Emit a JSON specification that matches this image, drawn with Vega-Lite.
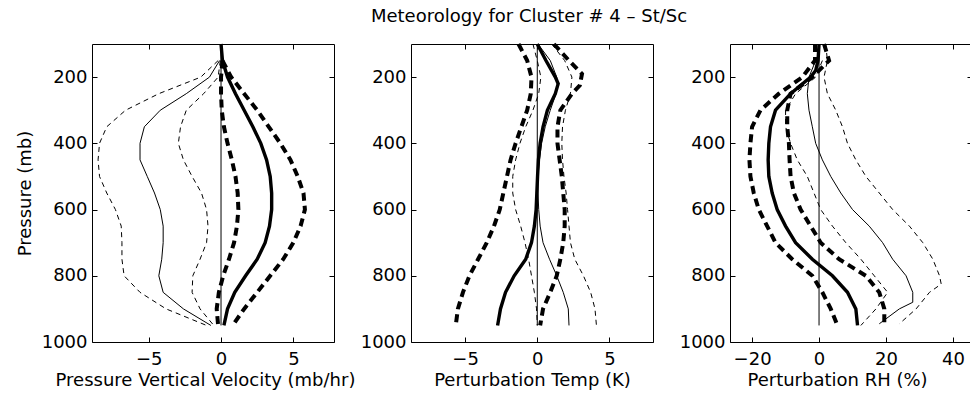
{
  "$schema": "https://vega.github.io/schema/vega-lite/v6.json",
  "autosize": {"type": "none"},
  "padding": {"left": 92, "top": 44, "right": 878, "bottom": 351},
  "background": "white",
  "config": {
    "view": {"stroke": "black", "strokeWidth": 1},
    "axis": {
      "domain": false, "grid": false, "ticks": true, "tickColor": "black", "tickSize": -5, "tickWidth": 1,
      "labelFont": "DejaVu Sans", "labelFontSize": 18, "labelColor": "black", "format": "d",
      "titleFont": "DejaVu Sans", "titleFontSize": 18, "titleFontWeight": "normal", "titleColor": "black"
    },
    "axisBottom": {"labelBaseline": "alphabetic", "labelPadding": 27, "titleBaseline": "alphabetic", "titleY": 43},
    "axisLeft": {"labelPadding": 10, "titleX": -58},
    "line": {"color": "black", "strokeCap": "butt", "interpolate": "linear"}
  },
  "hconcat": [
    {
      "width": 242, "height": 298,
      "data": {"name": "omega"},
      "encoding": {
        "x": {"field": "v", "type": "quantitative", "scale": {"domain": [-8.92, 7.81], "nice": false, "zero": false}, "axis": null},
        "y": {"field": "p", "type": "quantitative", "scale": {"domain": [100, 1000], "reverse": true, "nice": false, "zero": false}, "axis": null},
        "detail": {"field": "c"},
        "order": {"field": "p"}
      },
      "layer": [
        {
          "transform": [{"filter": "datum.s === 'cluster'"}],
          "mark": {"type": "line", "color": "black", "strokeWidth": 3.4},
          "encoding": {
            "x": {"field": "v", "type": "quantitative", "axis": {"values": [-5, 0, 5], "title": "Pressure Vertical Velocity (mb/hr)", "titleX": 113}},
            "y": {"field": "p", "type": "quantitative", "axis": {"values": [200, 400, 600, 800, 1000], "title": "Pressure (mb)"}}
          }
        },
        {"transform": [{"filter": "datum.s === 'cluster_sd'"}], "mark": {"type": "line", "color": "black", "strokeWidth": 4, "strokeDash": [8, 5]}},
        {"transform": [{"filter": "datum.s === 'all'"}], "mark": {"type": "line", "color": "black", "strokeWidth": 1}},
        {"transform": [{"filter": "datum.s === 'all_sd'"}], "mark": {"type": "line", "color": "black", "strokeWidth": 1, "strokeDash": [5, 4]}},
        {
          "transform": [{"filter": "datum.s === 'zero'"}],
          "mark": {"type": "line", "color": "black", "strokeWidth": 1},
          "encoding": {
            "x": {"field": "v", "type": "quantitative", "axis": {"orient": "top", "values": [-5, 0, 5], "labels": false, "title": null}},
            "y": {"field": "p", "type": "quantitative", "axis": {"orient": "right", "values": [200, 400, 600, 800, 1000], "labels": false, "title": null}}
          }
        }
      ],
      "resolve": {"axis": {"x": "independent", "y": "independent"}}
    },
    {
      "width": 242, "height": 298,
      "data": {"name": "temp"},
      "title": {"text": "Meteorology for Cluster # 4 – St/Sc", "font": "DejaVu Sans", "fontSize": 18, "fontWeight": "normal", "baseline": "alphabetic", "offset": -4, "anchor": "middle", "color": "black", "dx": -3},
      "encoding": {
        "x": {"field": "v", "type": "quantitative", "scale": {"domain": [-8.75, 8.02], "nice": false, "zero": false}, "axis": null},
        "y": {"field": "p", "type": "quantitative", "scale": {"domain": [100, 1000], "reverse": true, "nice": false, "zero": false}, "axis": null},
        "detail": {"field": "c"},
        "order": {"field": "p"}
      },
      "layer": [
        {
          "transform": [{"filter": "datum.s === 'cluster'"}],
          "mark": {"type": "line", "color": "black", "strokeWidth": 3.4},
          "encoding": {
            "x": {"field": "v", "type": "quantitative", "axis": {"values": [-5, 0, 5], "title": "Perturbation Temp (K)"}},
            "y": {"field": "p", "type": "quantitative", "axis": {"values": [200, 400, 600, 800, 1000], "title": null}}
          }
        },
        {"transform": [{"filter": "datum.s === 'cluster_sd'"}], "mark": {"type": "line", "color": "black", "strokeWidth": 4, "strokeDash": [8, 5]}},
        {"transform": [{"filter": "datum.s === 'all'"}], "mark": {"type": "line", "color": "black", "strokeWidth": 1}},
        {"transform": [{"filter": "datum.s === 'all_sd'"}], "mark": {"type": "line", "color": "black", "strokeWidth": 1, "strokeDash": [5, 4]}},
        {
          "transform": [{"filter": "datum.s === 'zero'"}],
          "mark": {"type": "line", "color": "black", "strokeWidth": 1},
          "encoding": {
            "x": {"field": "v", "type": "quantitative", "axis": {"orient": "top", "values": [-5, 0, 5], "labels": false, "title": null}},
            "y": {"field": "p", "type": "quantitative", "axis": {"orient": "right", "values": [200, 400, 600, 800, 1000], "labels": false, "title": null}}
          }
        }
      ],
      "resolve": {"axis": {"x": "independent", "y": "independent"}}
    },
    {
      "width": 242, "height": 298,
      "data": {"name": "rh"},
      "encoding": {
        "x": {"field": "v", "type": "quantitative", "scale": {"domain": [-26.6, 45.7], "nice": false, "zero": false}, "axis": null},
        "y": {"field": "p", "type": "quantitative", "scale": {"domain": [100, 1000], "reverse": true, "nice": false, "zero": false}, "axis": null},
        "detail": {"field": "c"},
        "order": {"field": "p"}
      },
      "layer": [
        {
          "transform": [{"filter": "datum.s === 'cluster'"}],
          "mark": {"type": "line", "color": "black", "strokeWidth": 3.4},
          "encoding": {
            "x": {"field": "v", "type": "quantitative", "axis": {"values": [-20, 0, 20, 40], "title": "Perturbation RH (%)", "titleX": 107}},
            "y": {"field": "p", "type": "quantitative", "axis": {"values": [200, 400, 600, 800, 1000], "title": null}}
          }
        },
        {"transform": [{"filter": "datum.s === 'cluster_sd'"}], "mark": {"type": "line", "color": "black", "strokeWidth": 4, "strokeDash": [8, 5]}},
        {"transform": [{"filter": "datum.s === 'all'"}], "mark": {"type": "line", "color": "black", "strokeWidth": 1}},
        {"transform": [{"filter": "datum.s === 'all_sd'"}], "mark": {"type": "line", "color": "black", "strokeWidth": 1, "strokeDash": [5, 4]}},
        {
          "transform": [{"filter": "datum.s === 'zero'"}],
          "mark": {"type": "line", "color": "black", "strokeWidth": 1},
          "encoding": {
            "x": {"field": "v", "type": "quantitative", "axis": {"orient": "top", "values": [-20, 0, 20, 40], "labels": false, "title": null}},
            "y": {"field": "p", "type": "quantitative", "axis": {"orient": "right", "values": [200, 400, 600, 800, 1000], "labels": false, "title": null}}
          }
        }
      ],
      "resolve": {"axis": {"x": "independent", "y": "independent"}}
    }
  ],
  "spacing": 77,
  "bounds": "flush",
  "datasets": {
    "omega": [
      {"s": "zero", "c": "zero", "p": 100, "v": 0}, {"s": "zero", "c": "zero", "p": 950, "v": 0},
      {"s": "cluster", "c": "cluster", "p": 100, "v": 0}, {"s": "cluster", "c": "cluster", "p": 150, "v": 0.1}, {"s": "cluster", "c": "cluster", "p": 200, "v": 0.45}, {"s": "cluster", "c": "cluster", "p": 250, "v": 1.0}, {"s": "cluster", "c": "cluster", "p": 300, "v": 1.6}, {"s": "cluster", "c": "cluster", "p": 350, "v": 2.2}, {"s": "cluster", "c": "cluster", "p": 400, "v": 2.75}, {"s": "cluster", "c": "cluster", "p": 450, "v": 3.15}, {"s": "cluster", "c": "cluster", "p": 500, "v": 3.4}, {"s": "cluster", "c": "cluster", "p": 550, "v": 3.5}, {"s": "cluster", "c": "cluster", "p": 600, "v": 3.5}, {"s": "cluster", "c": "cluster", "p": 650, "v": 3.35}, {"s": "cluster", "c": "cluster", "p": 700, "v": 3.05}, {"s": "cluster", "c": "cluster", "p": 750, "v": 2.5}, {"s": "cluster", "c": "cluster", "p": 800, "v": 1.7}, {"s": "cluster", "c": "cluster", "p": 850, "v": 0.95}, {"s": "cluster", "c": "cluster", "p": 900, "v": 0.45}, {"s": "cluster", "c": "cluster", "p": 950, "v": 0.2},
      {"s": "cluster_sd", "c": "cluster_hi", "p": 150, "v": 0.1}, {"s": "cluster_sd", "c": "cluster_hi", "p": 200, "v": 0.7}, {"s": "cluster_sd", "c": "cluster_hi", "p": 250, "v": 1.6}, {"s": "cluster_sd", "c": "cluster_hi", "p": 300, "v": 2.5}, {"s": "cluster_sd", "c": "cluster_hi", "p": 350, "v": 3.3}, {"s": "cluster_sd", "c": "cluster_hi", "p": 400, "v": 4.1}, {"s": "cluster_sd", "c": "cluster_hi", "p": 450, "v": 4.8}, {"s": "cluster_sd", "c": "cluster_hi", "p": 500, "v": 5.3}, {"s": "cluster_sd", "c": "cluster_hi", "p": 550, "v": 5.7}, {"s": "cluster_sd", "c": "cluster_hi", "p": 600, "v": 5.8}, {"s": "cluster_sd", "c": "cluster_hi", "p": 650, "v": 5.5}, {"s": "cluster_sd", "c": "cluster_hi", "p": 700, "v": 5.0}, {"s": "cluster_sd", "c": "cluster_hi", "p": 750, "v": 4.3}, {"s": "cluster_sd", "c": "cluster_hi", "p": 800, "v": 3.4}, {"s": "cluster_sd", "c": "cluster_hi", "p": 850, "v": 2.5}, {"s": "cluster_sd", "c": "cluster_hi", "p": 900, "v": 1.6}, {"s": "cluster_sd", "c": "cluster_hi", "p": 950, "v": 0.8},
      {"s": "cluster_sd", "c": "cluster_lo", "p": 150, "v": 0.1}, {"s": "cluster_sd", "c": "cluster_lo", "p": 200, "v": 0.0}, {"s": "cluster_sd", "c": "cluster_lo", "p": 250, "v": 0.0}, {"s": "cluster_sd", "c": "cluster_lo", "p": 300, "v": 0.05}, {"s": "cluster_sd", "c": "cluster_lo", "p": 350, "v": 0.2}, {"s": "cluster_sd", "c": "cluster_lo", "p": 400, "v": 0.45}, {"s": "cluster_sd", "c": "cluster_lo", "p": 450, "v": 0.75}, {"s": "cluster_sd", "c": "cluster_lo", "p": 500, "v": 1.0}, {"s": "cluster_sd", "c": "cluster_lo", "p": 550, "v": 1.15}, {"s": "cluster_sd", "c": "cluster_lo", "p": 600, "v": 1.2}, {"s": "cluster_sd", "c": "cluster_lo", "p": 650, "v": 1.1}, {"s": "cluster_sd", "c": "cluster_lo", "p": 700, "v": 0.9}, {"s": "cluster_sd", "c": "cluster_lo", "p": 750, "v": 0.55}, {"s": "cluster_sd", "c": "cluster_lo", "p": 800, "v": 0.15}, {"s": "cluster_sd", "c": "cluster_lo", "p": 850, "v": -0.15}, {"s": "cluster_sd", "c": "cluster_lo", "p": 900, "v": -0.3}, {"s": "cluster_sd", "c": "cluster_lo", "p": 950, "v": -0.2},
      {"s": "all", "c": "all", "p": 150, "v": -0.1}, {"s": "all", "c": "all", "p": 200, "v": -0.8}, {"s": "all", "c": "all", "p": 250, "v": -2.4}, {"s": "all", "c": "all", "p": 300, "v": -4.2}, {"s": "all", "c": "all", "p": 350, "v": -5.3}, {"s": "all", "c": "all", "p": 400, "v": -5.6}, {"s": "all", "c": "all", "p": 450, "v": -5.6}, {"s": "all", "c": "all", "p": 500, "v": -5.1}, {"s": "all", "c": "all", "p": 550, "v": -4.6}, {"s": "all", "c": "all", "p": 600, "v": -4.2}, {"s": "all", "c": "all", "p": 650, "v": -4.0}, {"s": "all", "c": "all", "p": 700, "v": -4.0}, {"s": "all", "c": "all", "p": 750, "v": -4.1}, {"s": "all", "c": "all", "p": 800, "v": -4.3}, {"s": "all", "c": "all", "p": 850, "v": -4.0}, {"s": "all", "c": "all", "p": 900, "v": -2.6}, {"s": "all", "c": "all", "p": 950, "v": -0.7},
      {"s": "all_sd", "c": "all_lo", "p": 150, "v": -0.2}, {"s": "all_sd", "c": "all_lo", "p": 200, "v": -1.4}, {"s": "all_sd", "c": "all_lo", "p": 250, "v": -4.3}, {"s": "all_sd", "c": "all_lo", "p": 300, "v": -6.6}, {"s": "all_sd", "c": "all_lo", "p": 350, "v": -7.9}, {"s": "all_sd", "c": "all_lo", "p": 400, "v": -8.4}, {"s": "all_sd", "c": "all_lo", "p": 450, "v": -8.5}, {"s": "all_sd", "c": "all_lo", "p": 500, "v": -8.4}, {"s": "all_sd", "c": "all_lo", "p": 550, "v": -7.9}, {"s": "all_sd", "c": "all_lo", "p": 600, "v": -7.3}, {"s": "all_sd", "c": "all_lo", "p": 650, "v": -6.9}, {"s": "all_sd", "c": "all_lo", "p": 700, "v": -6.85}, {"s": "all_sd", "c": "all_lo", "p": 750, "v": -6.85}, {"s": "all_sd", "c": "all_lo", "p": 800, "v": -6.7}, {"s": "all_sd", "c": "all_lo", "p": 850, "v": -5.6}, {"s": "all_sd", "c": "all_lo", "p": 900, "v": -3.8}, {"s": "all_sd", "c": "all_lo", "p": 950, "v": -1.0},
      {"s": "all_sd", "c": "all_hi", "p": 150, "v": -0.05}, {"s": "all_sd", "c": "all_hi", "p": 200, "v": -0.2}, {"s": "all_sd", "c": "all_hi", "p": 250, "v": -1.2}, {"s": "all_sd", "c": "all_hi", "p": 300, "v": -2.4}, {"s": "all_sd", "c": "all_hi", "p": 350, "v": -2.8}, {"s": "all_sd", "c": "all_hi", "p": 400, "v": -2.95}, {"s": "all_sd", "c": "all_hi", "p": 450, "v": -2.6}, {"s": "all_sd", "c": "all_hi", "p": 500, "v": -2.0}, {"s": "all_sd", "c": "all_hi", "p": 550, "v": -1.35}, {"s": "all_sd", "c": "all_hi", "p": 600, "v": -1.0}, {"s": "all_sd", "c": "all_hi", "p": 650, "v": -0.9}, {"s": "all_sd", "c": "all_hi", "p": 700, "v": -1.0}, {"s": "all_sd", "c": "all_hi", "p": 750, "v": -1.45}, {"s": "all_sd", "c": "all_hi", "p": 800, "v": -1.95}, {"s": "all_sd", "c": "all_hi", "p": 850, "v": -2.0}, {"s": "all_sd", "c": "all_hi", "p": 900, "v": -1.45}, {"s": "all_sd", "c": "all_hi", "p": 950, "v": -0.5}
    ],
    "temp": [
      {"s": "zero", "c": "zero", "p": 100, "v": 0}, {"s": "zero", "c": "zero", "p": 950, "v": 0},
      {"s": "cluster", "c": "cluster", "p": 100, "v": 0}, {"s": "cluster", "c": "cluster", "p": 150, "v": 0.6}, {"s": "cluster", "c": "cluster", "p": 200, "v": 1.25}, {"s": "cluster", "c": "cluster", "p": 220, "v": 1.45}, {"s": "cluster", "c": "cluster", "p": 250, "v": 1.25}, {"s": "cluster", "c": "cluster", "p": 300, "v": 0.7}, {"s": "cluster", "c": "cluster", "p": 350, "v": 0.4}, {"s": "cluster", "c": "cluster", "p": 400, "v": 0.2}, {"s": "cluster", "c": "cluster", "p": 450, "v": 0.08}, {"s": "cluster", "c": "cluster", "p": 500, "v": 0.02}, {"s": "cluster", "c": "cluster", "p": 550, "v": -0.03}, {"s": "cluster", "c": "cluster", "p": 600, "v": -0.08}, {"s": "cluster", "c": "cluster", "p": 650, "v": -0.2}, {"s": "cluster", "c": "cluster", "p": 700, "v": -0.4}, {"s": "cluster", "c": "cluster", "p": 750, "v": -0.8}, {"s": "cluster", "c": "cluster", "p": 800, "v": -1.6}, {"s": "cluster", "c": "cluster", "p": 850, "v": -2.2}, {"s": "cluster", "c": "cluster", "p": 900, "v": -2.55}, {"s": "cluster", "c": "cluster", "p": 950, "v": -2.75},
      {"s": "cluster_sd", "c": "cluster_lo", "p": 100, "v": -1.3}, {"s": "cluster_sd", "c": "cluster_lo", "p": 150, "v": -0.7}, {"s": "cluster_sd", "c": "cluster_lo", "p": 200, "v": -0.4}, {"s": "cluster_sd", "c": "cluster_lo", "p": 250, "v": -0.45}, {"s": "cluster_sd", "c": "cluster_lo", "p": 300, "v": -0.7}, {"s": "cluster_sd", "c": "cluster_lo", "p": 350, "v": -1.1}, {"s": "cluster_sd", "c": "cluster_lo", "p": 400, "v": -1.5}, {"s": "cluster_sd", "c": "cluster_lo", "p": 450, "v": -1.85}, {"s": "cluster_sd", "c": "cluster_lo", "p": 500, "v": -2.1}, {"s": "cluster_sd", "c": "cluster_lo", "p": 550, "v": -2.35}, {"s": "cluster_sd", "c": "cluster_lo", "p": 600, "v": -2.6}, {"s": "cluster_sd", "c": "cluster_lo", "p": 650, "v": -3.0}, {"s": "cluster_sd", "c": "cluster_lo", "p": 700, "v": -3.5}, {"s": "cluster_sd", "c": "cluster_lo", "p": 750, "v": -4.1}, {"s": "cluster_sd", "c": "cluster_lo", "p": 800, "v": -4.7}, {"s": "cluster_sd", "c": "cluster_lo", "p": 850, "v": -5.15}, {"s": "cluster_sd", "c": "cluster_lo", "p": 900, "v": -5.5}, {"s": "cluster_sd", "c": "cluster_lo", "p": 950, "v": -5.65},
      {"s": "cluster_sd", "c": "cluster_hi", "p": 100, "v": 1.15}, {"s": "cluster_sd", "c": "cluster_hi", "p": 150, "v": 2.2}, {"s": "cluster_sd", "c": "cluster_hi", "p": 190, "v": 3.1}, {"s": "cluster_sd", "c": "cluster_hi", "p": 225, "v": 2.95}, {"s": "cluster_sd", "c": "cluster_hi", "p": 250, "v": 2.4}, {"s": "cluster_sd", "c": "cluster_hi", "p": 300, "v": 1.6}, {"s": "cluster_sd", "c": "cluster_hi", "p": 350, "v": 1.4}, {"s": "cluster_sd", "c": "cluster_hi", "p": 400, "v": 1.4}, {"s": "cluster_sd", "c": "cluster_hi", "p": 450, "v": 1.55}, {"s": "cluster_sd", "c": "cluster_hi", "p": 500, "v": 1.7}, {"s": "cluster_sd", "c": "cluster_hi", "p": 550, "v": 1.8}, {"s": "cluster_sd", "c": "cluster_hi", "p": 600, "v": 1.9}, {"s": "cluster_sd", "c": "cluster_hi", "p": 650, "v": 1.9}, {"s": "cluster_sd", "c": "cluster_hi", "p": 700, "v": 1.8}, {"s": "cluster_sd", "c": "cluster_hi", "p": 750, "v": 1.6}, {"s": "cluster_sd", "c": "cluster_hi", "p": 800, "v": 1.35}, {"s": "cluster_sd", "c": "cluster_hi", "p": 850, "v": 0.9}, {"s": "cluster_sd", "c": "cluster_hi", "p": 900, "v": 0.4}, {"s": "cluster_sd", "c": "cluster_hi", "p": 950, "v": 0.2},
      {"s": "all", "c": "all", "p": 100, "v": 0.05}, {"s": "all", "c": "all", "p": 150, "v": 0.9}, {"s": "all", "c": "all", "p": 200, "v": 1.35}, {"s": "all", "c": "all", "p": 225, "v": 1.4}, {"s": "all", "c": "all", "p": 250, "v": 1.3}, {"s": "all", "c": "all", "p": 300, "v": 0.9}, {"s": "all", "c": "all", "p": 350, "v": 0.55}, {"s": "all", "c": "all", "p": 400, "v": 0.3}, {"s": "all", "c": "all", "p": 450, "v": 0.15}, {"s": "all", "c": "all", "p": 500, "v": 0.05}, {"s": "all", "c": "all", "p": 550, "v": 0.05}, {"s": "all", "c": "all", "p": 600, "v": 0.1}, {"s": "all", "c": "all", "p": 650, "v": 0.2}, {"s": "all", "c": "all", "p": 700, "v": 0.4}, {"s": "all", "c": "all", "p": 750, "v": 0.85}, {"s": "all", "c": "all", "p": 800, "v": 1.35}, {"s": "all", "c": "all", "p": 850, "v": 1.8}, {"s": "all", "c": "all", "p": 900, "v": 2.15}, {"s": "all", "c": "all", "p": 950, "v": 2.2},
      {"s": "all_sd", "c": "all_hi", "p": 100, "v": 1.0}, {"s": "all_sd", "c": "all_hi", "p": 150, "v": 1.9}, {"s": "all_sd", "c": "all_hi", "p": 200, "v": 2.4}, {"s": "all_sd", "c": "all_hi", "p": 250, "v": 2.3}, {"s": "all_sd", "c": "all_hi", "p": 300, "v": 1.95}, {"s": "all_sd", "c": "all_hi", "p": 350, "v": 1.75}, {"s": "all_sd", "c": "all_hi", "p": 400, "v": 1.7}, {"s": "all_sd", "c": "all_hi", "p": 450, "v": 1.75}, {"s": "all_sd", "c": "all_hi", "p": 500, "v": 1.85}, {"s": "all_sd", "c": "all_hi", "p": 550, "v": 2.0}, {"s": "all_sd", "c": "all_hi", "p": 600, "v": 2.1}, {"s": "all_sd", "c": "all_hi", "p": 650, "v": 2.2}, {"s": "all_sd", "c": "all_hi", "p": 700, "v": 2.3}, {"s": "all_sd", "c": "all_hi", "p": 750, "v": 2.6}, {"s": "all_sd", "c": "all_hi", "p": 800, "v": 3.2}, {"s": "all_sd", "c": "all_hi", "p": 850, "v": 3.7}, {"s": "all_sd", "c": "all_hi", "p": 900, "v": 4.0}, {"s": "all_sd", "c": "all_hi", "p": 950, "v": 4.1},
      {"s": "all_sd", "c": "all_lo", "p": 100, "v": -0.3}, {"s": "all_sd", "c": "all_lo", "p": 150, "v": 0.0}, {"s": "all_sd", "c": "all_lo", "p": 200, "v": 0.25}, {"s": "all_sd", "c": "all_lo", "p": 250, "v": 0.1}, {"s": "all_sd", "c": "all_lo", "p": 300, "v": -0.3}, {"s": "all_sd", "c": "all_lo", "p": 350, "v": -0.8}, {"s": "all_sd", "c": "all_lo", "p": 400, "v": -1.2}, {"s": "all_sd", "c": "all_lo", "p": 450, "v": -1.5}, {"s": "all_sd", "c": "all_lo", "p": 500, "v": -1.7}, {"s": "all_sd", "c": "all_lo", "p": 550, "v": -1.7}, {"s": "all_sd", "c": "all_lo", "p": 600, "v": -1.5}, {"s": "all_sd", "c": "all_lo", "p": 650, "v": -1.15}, {"s": "all_sd", "c": "all_lo", "p": 700, "v": -0.85}, {"s": "all_sd", "c": "all_lo", "p": 750, "v": -0.6}, {"s": "all_sd", "c": "all_lo", "p": 800, "v": -0.4}, {"s": "all_sd", "c": "all_lo", "p": 850, "v": -0.2}, {"s": "all_sd", "c": "all_lo", "p": 900, "v": -0.05}, {"s": "all_sd", "c": "all_lo", "p": 950, "v": 0.0}
    ],
    "rh": [
      {"s": "zero", "c": "zero", "p": 100, "v": 0}, {"s": "zero", "c": "zero", "p": 950, "v": 0},
      {"s": "cluster", "c": "cluster", "p": 100, "v": 0}, {"s": "cluster", "c": "cluster", "p": 150, "v": -0.3}, {"s": "cluster", "c": "cluster", "p": 180, "v": -1.0}, {"s": "cluster", "c": "cluster", "p": 200, "v": -2.5}, {"s": "cluster", "c": "cluster", "p": 250, "v": -8.5}, {"s": "cluster", "c": "cluster", "p": 300, "v": -13}, {"s": "cluster", "c": "cluster", "p": 350, "v": -14.5}, {"s": "cluster", "c": "cluster", "p": 400, "v": -15}, {"s": "cluster", "c": "cluster", "p": 450, "v": -15.2}, {"s": "cluster", "c": "cluster", "p": 500, "v": -15}, {"s": "cluster", "c": "cluster", "p": 550, "v": -14}, {"s": "cluster", "c": "cluster", "p": 600, "v": -12.5}, {"s": "cluster", "c": "cluster", "p": 650, "v": -10}, {"s": "cluster", "c": "cluster", "p": 700, "v": -7}, {"s": "cluster", "c": "cluster", "p": 750, "v": -2}, {"s": "cluster", "c": "cluster", "p": 800, "v": 4}, {"s": "cluster", "c": "cluster", "p": 850, "v": 8.5}, {"s": "cluster", "c": "cluster", "p": 900, "v": 11}, {"s": "cluster", "c": "cluster", "p": 950, "v": 11.5},
      {"s": "cluster_sd", "c": "cluster_lo", "p": 100, "v": -1.2}, {"s": "cluster_sd", "c": "cluster_lo", "p": 150, "v": -1.2}, {"s": "cluster_sd", "c": "cluster_lo", "p": 200, "v": -5}, {"s": "cluster_sd", "c": "cluster_lo", "p": 250, "v": -12}, {"s": "cluster_sd", "c": "cluster_lo", "p": 300, "v": -17.5}, {"s": "cluster_sd", "c": "cluster_lo", "p": 350, "v": -20}, {"s": "cluster_sd", "c": "cluster_lo", "p": 400, "v": -20.5}, {"s": "cluster_sd", "c": "cluster_lo", "p": 450, "v": -20.8}, {"s": "cluster_sd", "c": "cluster_lo", "p": 500, "v": -20.5}, {"s": "cluster_sd", "c": "cluster_lo", "p": 550, "v": -19.5}, {"s": "cluster_sd", "c": "cluster_lo", "p": 600, "v": -18}, {"s": "cluster_sd", "c": "cluster_lo", "p": 650, "v": -15.5}, {"s": "cluster_sd", "c": "cluster_lo", "p": 700, "v": -13}, {"s": "cluster_sd", "c": "cluster_lo", "p": 750, "v": -8}, {"s": "cluster_sd", "c": "cluster_lo", "p": 800, "v": -2}, {"s": "cluster_sd", "c": "cluster_lo", "p": 850, "v": 1}, {"s": "cluster_sd", "c": "cluster_lo", "p": 900, "v": 3.5}, {"s": "cluster_sd", "c": "cluster_lo", "p": 950, "v": 5.5},
      {"s": "cluster_sd", "c": "cluster_hi", "p": 100, "v": 1.5}, {"s": "cluster_sd", "c": "cluster_hi", "p": 150, "v": 3}, {"s": "cluster_sd", "c": "cluster_hi", "p": 200, "v": -2}, {"s": "cluster_sd", "c": "cluster_hi", "p": 250, "v": -8.5}, {"s": "cluster_sd", "c": "cluster_hi", "p": 300, "v": -9.5}, {"s": "cluster_sd", "c": "cluster_hi", "p": 350, "v": -9.5}, {"s": "cluster_sd", "c": "cluster_hi", "p": 400, "v": -9}, {"s": "cluster_sd", "c": "cluster_hi", "p": 450, "v": -8.8}, {"s": "cluster_sd", "c": "cluster_hi", "p": 500, "v": -8.5}, {"s": "cluster_sd", "c": "cluster_hi", "p": 550, "v": -7.5}, {"s": "cluster_sd", "c": "cluster_hi", "p": 600, "v": -5.5}, {"s": "cluster_sd", "c": "cluster_hi", "p": 650, "v": -2.5}, {"s": "cluster_sd", "c": "cluster_hi", "p": 700, "v": 0.5}, {"s": "cluster_sd", "c": "cluster_hi", "p": 750, "v": 6}, {"s": "cluster_sd", "c": "cluster_hi", "p": 800, "v": 14}, {"s": "cluster_sd", "c": "cluster_hi", "p": 850, "v": 18}, {"s": "cluster_sd", "c": "cluster_hi", "p": 900, "v": 19.5}, {"s": "cluster_sd", "c": "cluster_hi", "p": 950, "v": 19.5},
      {"s": "all", "c": "all", "p": 150, "v": -1}, {"s": "all", "c": "all", "p": 200, "v": -3}, {"s": "all", "c": "all", "p": 250, "v": -3.5}, {"s": "all", "c": "all", "p": 300, "v": -3}, {"s": "all", "c": "all", "p": 350, "v": -2}, {"s": "all", "c": "all", "p": 400, "v": -1}, {"s": "all", "c": "all", "p": 450, "v": 1}, {"s": "all", "c": "all", "p": 500, "v": 3.5}, {"s": "all", "c": "all", "p": 550, "v": 6.5}, {"s": "all", "c": "all", "p": 600, "v": 10}, {"s": "all", "c": "all", "p": 650, "v": 15}, {"s": "all", "c": "all", "p": 700, "v": 19}, {"s": "all", "c": "all", "p": 750, "v": 22}, {"s": "all", "c": "all", "p": 800, "v": 26}, {"s": "all", "c": "all", "p": 850, "v": 28}, {"s": "all", "c": "all", "p": 880, "v": 28}, {"s": "all", "c": "all", "p": 900, "v": 24}, {"s": "all", "c": "all", "p": 945, "v": 18},
      {"s": "all_sd", "c": "all_lo", "p": 150, "v": 1}, {"s": "all_sd", "c": "all_lo", "p": 200, "v": -1}, {"s": "all_sd", "c": "all_lo", "p": 250, "v": -7}, {"s": "all_sd", "c": "all_lo", "p": 300, "v": -10}, {"s": "all_sd", "c": "all_lo", "p": 350, "v": -10}, {"s": "all_sd", "c": "all_lo", "p": 400, "v": -8.5}, {"s": "all_sd", "c": "all_lo", "p": 450, "v": -6.5}, {"s": "all_sd", "c": "all_lo", "p": 500, "v": -3.5}, {"s": "all_sd", "c": "all_lo", "p": 550, "v": -1.5}, {"s": "all_sd", "c": "all_lo", "p": 600, "v": 0.5}, {"s": "all_sd", "c": "all_lo", "p": 650, "v": 4}, {"s": "all_sd", "c": "all_lo", "p": 700, "v": 8}, {"s": "all_sd", "c": "all_lo", "p": 750, "v": 12.5}, {"s": "all_sd", "c": "all_lo", "p": 800, "v": 16.5}, {"s": "all_sd", "c": "all_lo", "p": 850, "v": 20.5}, {"s": "all_sd", "c": "all_lo", "p": 900, "v": 17}, {"s": "all_sd", "c": "all_lo", "p": 950, "v": 12.5},
      {"s": "all_sd", "c": "all_hi", "p": 100, "v": 2}, {"s": "all_sd", "c": "all_hi", "p": 150, "v": 2.5}, {"s": "all_sd", "c": "all_hi", "p": 200, "v": 1.5}, {"s": "all_sd", "c": "all_hi", "p": 250, "v": 2.5}, {"s": "all_sd", "c": "all_hi", "p": 300, "v": 5}, {"s": "all_sd", "c": "all_hi", "p": 350, "v": 7}, {"s": "all_sd", "c": "all_hi", "p": 400, "v": 8.5}, {"s": "all_sd", "c": "all_hi", "p": 450, "v": 11}, {"s": "all_sd", "c": "all_hi", "p": 500, "v": 14}, {"s": "all_sd", "c": "all_hi", "p": 550, "v": 18}, {"s": "all_sd", "c": "all_hi", "p": 600, "v": 22}, {"s": "all_sd", "c": "all_hi", "p": 650, "v": 27}, {"s": "all_sd", "c": "all_hi", "p": 700, "v": 31}, {"s": "all_sd", "c": "all_hi", "p": 750, "v": 34}, {"s": "all_sd", "c": "all_hi", "p": 800, "v": 36}, {"s": "all_sd", "c": "all_hi", "p": 825, "v": 36.5}, {"s": "all_sd", "c": "all_hi", "p": 850, "v": 33}, {"s": "all_sd", "c": "all_hi", "p": 900, "v": 29}, {"s": "all_sd", "c": "all_hi", "p": 945, "v": 24}
    ]
  }
}
